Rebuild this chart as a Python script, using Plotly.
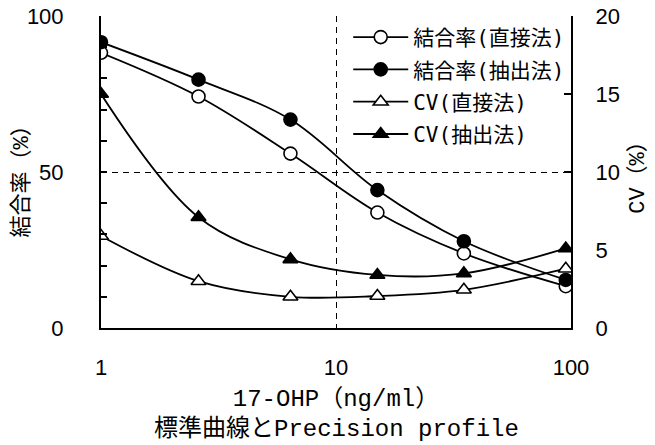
import plotly.graph_objects as go

conc = [1.0, 2.6, 6.4, 15.0, 35.0, 95.0]
bind_direct = [88.2, 74.2, 55.9, 37.0, 23.9, 13.4]
bind_extract = [91.6, 79.6, 66.8, 44.2, 27.8, 15.4]
cv_direct = [5.9, 3.0, 2.0, 2.05, 2.45, 3.8]
cv_extract = [15.0, 7.1, 4.4, 3.4, 3.5, 5.1]

names = ["結合率(直接法)", "結合率(抽出法)", "CV(直接法)", "CV(抽出法)"]
left_ticks = [0, 50, 100]
right_ticks = [0, 5, 10, 15, 20]
x_ticks = [1, 10, 100]

MONO = "Liberation Mono, Noto Sans CJK JP"
SANS = "Liberation Sans, Arial, sans-serif"

fig = go.Figure()

def add(y, name, symbol, fill, axis, grp):
    fig.add_trace(go.Scatter(
        x=conc, y=y, name=name, yaxis=axis, legendgroup=grp,
        mode="lines+markers",
        line=dict(color="black", width=1.8, shape="spline", smoothing=1),
        marker=dict(symbol=symbol, size=13, color=fill,
                    line=dict(color="black", width=1.6)),
    ))

add(bind_direct, names[0], "circle", "white", "y", "a")
add(bind_extract, names[1], "circle", "black", "y", "b")
add(cv_direct, names[2], "triangle-up", "white", "y2", "c")
add(cv_extract, names[3], "triangle-up", "black", "y2", "d")

fig.update_layout(
    width=655, height=445,
    margin=dict(l=101, r=84, t=16, b=117),
    paper_bgcolor="white", plot_bgcolor="white",
    font=dict(family=SANS, size=22, color="black"),
    showlegend=True,
    legend=dict(x=0.526, y=0.997, xanchor="left", yanchor="top",
                bgcolor="rgba(0,0,0,0)", borderwidth=0,
                font=dict(family="DejaVu Sans Mono, Noto Sans CJK JP", size=21),
                itemwidth=55, tracegroupgap=2, traceorder="grouped"),
    xaxis=dict(type="log", range=[0, 2], tickvals=x_ticks,
               ticktext=[str(v) for v in x_ticks], automargin=False,
               showgrid=True, gridcolor="black", gridwidth=1,
               griddash="6px,5px",
               showline=True, linecolor="black", linewidth=2,
               ticks="", ticklabelstandoff=19, zeroline=False,
               tickfont=dict(family=SANS, size=22),
               title=dict(text="17-OHP（ng/ml）",
                          font=dict(family=MONO, size=24), standoff=10)),
    xaxis2=dict(overlaying="x", side="top", range=[0, 1], automargin=False,
                showline=True, linecolor="#888888", linewidth=2,
                showticklabels=False, ticks="", showgrid=False,
                zeroline=False),
    yaxis=dict(range=[0, 100], tickvals=left_ticks, automargin=False,
               showgrid=True, gridcolor="black", gridwidth=1,
               griddash="6px,5px",
               showline=True, linecolor="black", linewidth=2,
               ticks="inside", ticklen=6, tickcolor="black", tickwidth=1.5,
               minor=dict(dtick=10, ticks="inside", ticklen=6,
                          tickcolor="black", tickwidth=1.5, showgrid=False),
               ticklabelstandoff=31, zeroline=False,
               tickfont=dict(family=SANS, size=22)),
    yaxis2=dict(overlaying="y", side="right", range=[0, 20], automargin=False,
                tickvals=right_ticks, showgrid=False,
                showline=True, linecolor="black", linewidth=2,
                ticks="inside", ticklen=7, tickcolor="black", tickwidth=1.5,
                ticklabelstandoff=18, zeroline=False,
                tickfont=dict(family=SANS, size=22),
                title=dict(text="CV（%）",
                           font=dict(family=MONO, size=22), standoff=10)),
    annotations=[
        dict(text="結合率（%）", xref="paper", yref="paper",
             x=-0.168, y=0.486, xanchor="center", yanchor="middle",
             textangle=-90, showarrow=False,
             font=dict(family=MONO, size=22)),
        dict(text="標準曲線とPrecision profile", xref="paper",
             yref="paper", x=0.5, y=-0.325, xanchor="center",
             yanchor="middle", showarrow=False,
             font=dict(family=MONO, size=24)),
    ],
)

fig.write_html("out.html")
